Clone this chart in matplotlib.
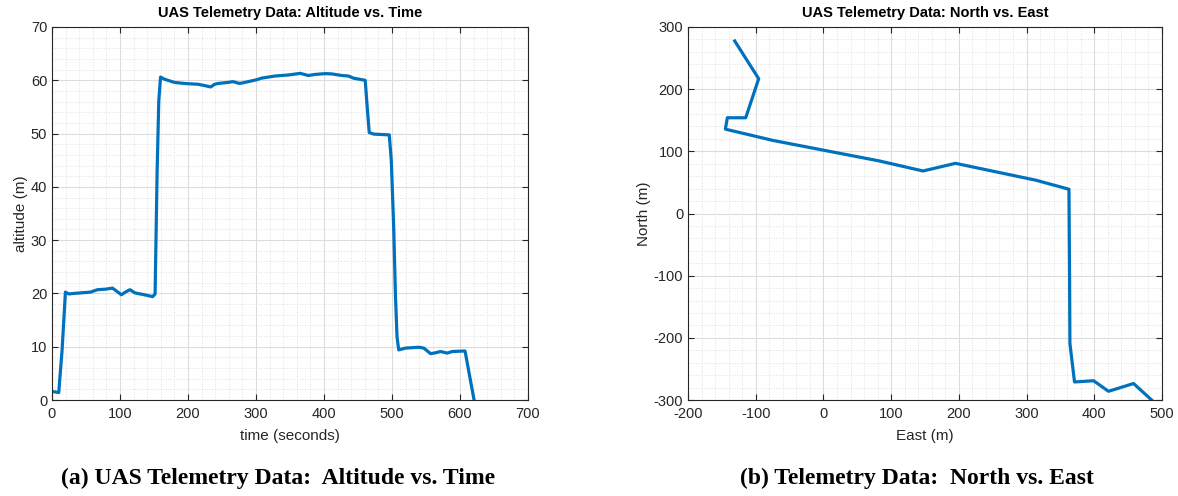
import numpy as np
import matplotlib.pyplot as plt
from matplotlib.ticker import MultipleLocator

plt.rcParams['font.family'] = ['Liberation Sans', 'DejaVu Sans']
plt.rcParams['axes.unicode_minus'] = False

# altitude vs time
time_s = [0, 9.9, 14.8, 19.75, 24.7, 32, 42, 56.8, 66.7, 79, 88.9, 95.3, 102, 108.6,
          114.6, 122, 135.8, 148, 151.6, 153, 154.6, 157, 159.6, 165.5, 180, 195,
          214.8, 224.6, 233.5, 239, 244, 259, 266, 276, 288.7, 301, 308, 328, 348,
          365, 377, 387, 402, 411.3, 426, 436, 443.3, 460.6, 464, 466.5, 473, 496,
          499, 502.5, 505, 507.4, 509.9, 519.7, 539.4, 546.8, 556.7, 564, 571.4,
          581.3, 588.7, 607.4, 620.7]
altitude = [1.6, 1.4, 9.3, 20.25, 19.9, 20.0, 20.1, 20.25, 20.7, 20.8, 21.0, 20.4,
            19.75, 20.3, 20.7, 20.1, 19.75, 19.4, 19.9, 30.6, 43, 56, 60.6, 60.2,
            59.6, 59.4, 59.25, 59.0, 58.75, 59.25, 59.4, 59.6, 59.75, 59.4, 59.75,
            60.1, 60.4, 60.8, 61.0, 61.3, 60.9, 61.1, 61.25, 61.2, 60.9, 60.8, 60.4,
            60.0, 54.2, 50.2, 49.9, 49.75, 44.9, 32.4, 19.9, 11.8, 9.4, 9.74, 9.9,
            9.74, 8.7, 8.86, 9.1, 8.8, 9.1, 9.2, 0]

# north vs east
east = [-131, -95.6, -114.8, -141.9, -144.8, -74.4, 82.7, 147, 195, 314, 362.6,
        363.5, 364, 370.8, 399, 421, 458, 484.7]
north = [277.5, 216.8, 154, 154, 135.7, 117.5, 84.5, 68.4, 80.7, 53.5, 39,
         -100, -209, -271, -269, -286, -273.5, -300]

blue = '#0072BD'
dark = '#262626'

fig = plt.figure(figsize=(11.78, 4.96), dpi=100)


def style(ax, title, xlabel, ylabel, xlim, ylim, xmaj, ymaj, xmin, ymin):
    ax.set_xlim(xlim)
    ax.set_ylim(ylim)
    ax.xaxis.set_major_locator(MultipleLocator(xmaj))
    ax.yaxis.set_major_locator(MultipleLocator(ymaj))
    ax.xaxis.set_minor_locator(MultipleLocator(xmin))
    ax.yaxis.set_minor_locator(MultipleLocator(ymin))
    ax.grid(True, which='major', color='#dcdcdc', linewidth=0.8)
    ax.grid(True, which='minor', color='#e0e0e0', linestyle=':', linewidth=0.7)
    ax.set_axisbelow(True)
    ax.tick_params(which='both', direction='in', top=True, right=True,
                   colors=dark, labelsize=10.5, labelcolor=dark)
    ax.tick_params(which='major', length=4, width=0.8)
    ax.tick_params(which='minor', length=0)
    ax.tick_params(axis='x', pad=5)
    for s in ax.spines.values():
        s.set_color(dark)
        s.set_linewidth(0.8)
    ax.set_title(title, fontsize=10.5, fontweight='bold', pad=7)
    ax.set_xlabel(xlabel, fontsize=11, color=dark, labelpad=6)
    ax.set_ylabel(ylabel, fontsize=11, color=dark, labelpad=2)


ax1 = fig.add_axes([52 / 1178, 1 - 400 / 496, 476 / 1178, 373 / 496])
ax1.plot(time_s, altitude, color=blue, linewidth=2.3)
style(ax1, 'UAS Telemetry Data: Altitude vs. Time', 'time (seconds)', 'altitude (m)',
      (0, 700), (0, 70), 100, 10, 20, 2)

ax2 = fig.add_axes([688 / 1178, 1 - 400 / 496, 474 / 1178, 373 / 496])
ax2.plot(east, north, color=blue, linewidth=2.3)
style(ax2, 'UAS Telemetry Data: North vs. East', 'East (m)', 'North (m)',
      (-200, 500), (-300, 300), 100, 100, 20, 20)

fig.text(278 / 1178, 1 - 478 / 496, '(a) UAS Telemetry Data:  Altitude vs. Time',
         ha='center', va='center', fontsize=17, fontweight='bold',
         family='Liberation Serif')
fig.text(917 / 1178, 1 - 478 / 496, '(b) Telemetry Data:  North vs. East',
         ha='center', va='center', fontsize=17, fontweight='bold',
         family='Liberation Serif')

fig.savefig('out.png', dpi=100)
